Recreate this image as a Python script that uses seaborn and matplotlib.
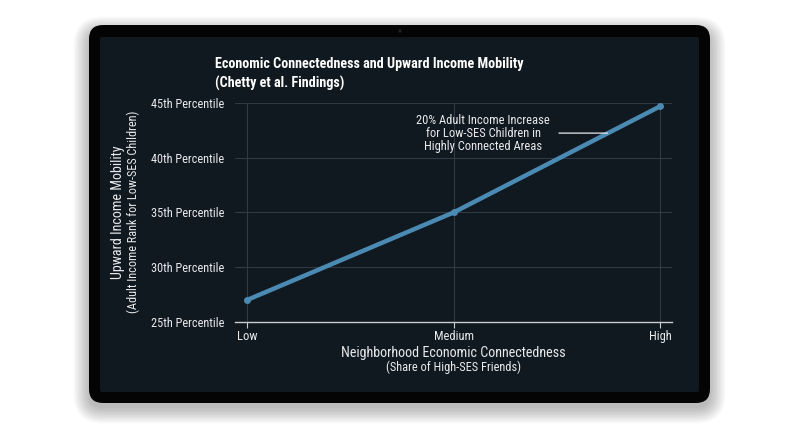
import matplotlib
matplotlib.use('Agg')
import matplotlib.pyplot as plt
import seaborn as sns
import pandas as pd
from matplotlib.patches import FancyBboxPatch, Circle

# chart data
levels = ['Low', 'Medium', 'High']
mobility = [27.0, 35.0, 44.7]
ytick_values = [25, 30, 35, 40, 45]
ytick_labels = ['25th Percentile', '30th Percentile', '35th Percentile',
                '40th Percentile', '45th Percentile']
title = 'Economic Connectedness and Upward Income Mobility\n(Chetty et al. Findings)'
note = '20% Adult Income Increase\nfor Low-SES Children in\nHighly Connected Areas'

df = pd.DataFrame({'connectedness': levels, 'mobility': mobility})

screen = '#111920'
line_color = '#4b8bb3'
text_color = '#e8eaec'

sns.set_theme(style='dark')
plt.rcParams['font.family'] = ['Roboto Condensed', 'DejaVu Sans']

W, H = 800, 447
fig = plt.figure(figsize=(W / 100, H / 100), dpi=100, facecolor='white')


def px_box(x0, y0, x1, y1, r, **kw):
    # box given in pixels from the top-left corner
    return FancyBboxPatch((x0 / 100, (H - y1) / 100), (x1 - x0) / 100, (y1 - y0) / 100,
                          boxstyle=f'round,pad=0,rounding_size={r / 100}',
                          transform=fig.dpi_scale_trans, **kw)


def px_text(x, y, s, **kw):
    return fig.text(x / W, 1 - y / H, s, **kw)


# tablet frame with a soft shadow
for i in range(12):
    g = i * 1.4
    fig.add_artist(px_box(89 - g, 27 - g + 5, 710 + g, 403 + g + 5, 14 + g,
                          fc='black', ec='none', alpha=0.022, zorder=-5))
fig.add_artist(px_box(89, 25, 710, 403, 14, fc='#040404', ec='none', zorder=-4))
fig.add_artist(px_box(100, 37, 699, 392, 2, fc=screen, ec='none', zorder=-3))
fig.add_artist(Circle((4.0, (H - 31) / 100), 0.016, transform=fig.dpi_scale_trans,
                      fc='#202224', ec='none', zorder=-2))

# plot area
ax = fig.add_axes([235 / W, 1 - 322 / H, 437 / W, 219 / H])
ax.set_zorder(10)
ax.set_facecolor('none')

sns.lineplot(data=df, x='connectedness', y='mobility', sort=False, ax=ax,
             color=line_color, lw=3.2, marker='o', markersize=5,
             markeredgewidth=0, clip_on=False)

ax.set_xlim(-0.057, 2.057)
ax.set_ylim(25, 45)
ax.set_yticks(ytick_values)
ax.set_yticklabels(ytick_labels)
ax.set_xlabel('')
ax.set_ylabel('')

ax.grid(True, color='#303a44', lw=0.8)
for side in ['top', 'right', 'left']:
    ax.spines[side].set_visible(False)
ax.spines['bottom'].set_color('#c9cdd1')
ax.spines['bottom'].set_linewidth(1.0)

ax.tick_params(axis='x', colors=text_color, labelsize=9, length=4, width=0.8,
               pad=2, bottom=True)
ax.tick_params(axis='x', color='#c9cdd1')
ax.tick_params(axis='y', colors=text_color, labelsize=8.8, length=0, pad=8)

# annotation pointing at the line
ax.annotate(note, xy=(1.745, 42.25), xytext=(1.144, 42.25),
            ha='center', va='center', fontsize=9, color=text_color,
            linespacing=1.0,
            arrowprops=dict(arrowstyle='-', color='#e8eaec', lw=0.9,
                            shrinkA=4, shrinkB=0))

# titles and axis labels
px_text(215, 74, title, ha='left', va='center', fontsize=10.2, fontweight='bold',
        color='white', linespacing=1.4)
px_text(118, 212, 'Upward Income Mobility', rotation=90, ha='center', va='center',
        fontsize=10.2, color=text_color)
px_text(133, 212, '(Adult Income Rank for Low-SES Children)', rotation=90,
        ha='center', va='center', fontsize=8.8, color=text_color)
px_text(453, 353, 'Neighborhood Economic Connectedness', ha='center', va='center',
        fontsize=10.2, color=text_color)
px_text(453, 367, '(Share of High-SES Friends)', ha='center', va='center',
        fontsize=8.9, color=text_color)

fig.savefig('out.png', dpi=100, facecolor='white')
